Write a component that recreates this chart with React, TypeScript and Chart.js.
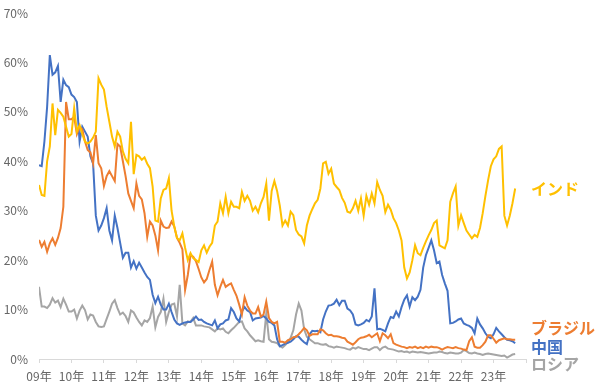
import React, { useEffect, useRef } from 'react';
import { Chart, registerables } from 'chart.js';

Chart.register(...registerables);

// Tick labels (one per year, Jan of each year)
const years = ['09年', '10年', '11年', '12年', '13年', '14年', '15年', '16年', '17年', '18年', '19年', '20年', '21年', '22年', '23年'];

// Monthly shares (%), Jan 2009 – Sep 2023
const india = [
  35.2, 33.2, 33, 40, 43, 51.7, 45.3, 50.4, 49.8, 49,
  47, 45, 45.5, 50.7, 46, 47.3, 45.5, 44, 43.6, 44,
  44.8, 46, 56.8, 55.5, 54.5, 51, 48, 45, 43, 46,
  45, 42, 40.5, 39.6, 48, 37.4, 41.3, 41, 40.3, 40.8,
  39.5, 38.6, 34.9, 28, 27.8, 32.5, 34.2, 34.5, 36.6, 30,
  26.8, 24.5, 24, 25.4, 22.5, 20, 21.4, 20.4, 20, 19.6,
  22, 23, 21.5, 22.7, 23.5, 27, 27.8, 31.5, 29.5, 32.8,
  29.5, 31.8, 30.8, 30.8, 30.5, 33.8, 32, 33, 32, 30,
  30.8, 29.7, 31.5, 32.8, 35.5, 28, 34, 36, 34, 31,
  27, 28, 27, 29.8, 29.1, 26.1, 25.2, 24.8, 23.4, 27,
  29, 30.3, 31.5, 32.2, 34.5, 39.6, 39.9, 37.5, 38.5, 35.5,
  34.8, 34.2, 32.6, 31.6, 29.8, 29.6, 30.5, 32, 30, 32.5,
  29, 33, 31.2, 33.5, 31.5, 35.8, 34.2, 33, 29.7, 31.2,
  30.2, 28.5, 27.5, 26, 24, 18.5, 16.3, 17.5, 20, 23,
  21.4, 21, 22.5, 23.8, 25, 26.1, 27.5, 28, 23, 22.7,
  22.4, 24, 31.8, 33.5, 34.9, 27, 29.1, 27.5, 26, 25.2,
  24.4, 25.1, 24.7, 26.5, 29.5, 33, 36.2, 39, 40.4, 41,
  42.5, 43, 29, 27, 29, 31.5, 34.5,
];

const brazil = [
  24.1, 22.7, 23.7, 21.7, 23.4, 24.4, 23.1, 24.5, 26.5, 30.8,
  52, 48.5, 48.5, 49, 45.5, 47, 46.5, 44, 42.3, 41.8,
  39.6, 45.3, 39.6, 38.6, 35, 37, 38, 37, 36, 43.5,
  43, 40, 37, 33.5, 32, 30.5, 35.5, 33, 32.3, 29.5,
  24.7, 27.8, 27, 25, 22, 28, 26.8, 26.5, 26.6, 27.8,
  26.8, 24.5, 23.5, 22.2, 14, 17, 21, 20.7, 19.8, 18.2,
  16.5, 15.5, 16.2, 18, 19.7, 15, 12.9, 14.6, 16, 14.6,
  15, 15.3, 14, 12.8, 11, 9, 12.5, 10.8, 9.8, 9.2,
  9.2, 10.5, 8.6, 9, 11.6, 8.3, 7.5, 7.2, 7.5, 3.5,
  3.5, 3.3, 3.8, 4, 4.4, 4.5, 5, 5.6, 6.3, 5.8,
  4.7, 5, 5, 5, 6, 5.8, 5.2, 4.8, 4.9, 4.6,
  4.6, 4.5, 4.3, 4.2, 3.5, 3.2, 2.9, 3.4, 4, 4.3,
  4.4, 4.6, 4.9, 4.4, 4.8, 5.2, 3.6, 5.2, 4.8, 4.2,
  5, 3.2, 2.9, 2.7, 2.5, 2.4, 2.2, 2.4, 2.3, 2.5,
  2.2, 2.4, 2.2, 2.5, 2.3, 2.5, 2.4, 2.4, 2.2, 1.9,
  2.2, 2.4, 2.3, 2.2, 2.4, 2.2, 2.1, 1.9, 1.8, 3.6,
  4.4, 2.5, 2.3, 2.3, 2.8, 3.5, 4.8, 4.8, 4.1, 3.3,
  3.8, 4, 4.2, 4, 4, 3.9, 3.9,
];

const china = [
  39.2, 39, 44, 51, 61.5, 57.5, 58, 59.3, 52, 56.5,
  55.4, 55, 53.5, 53, 52, 44, 47, 46, 45, 41,
  39.5, 29, 26, 27, 28.5, 30.5, 26, 24, 29, 26.5,
  23.5, 20.5, 21.5, 21.5, 18.5, 19.8, 18.3, 19.5, 18.5, 17.5,
  16.6, 16, 13, 11.3, 12.6, 11, 10, 10, 11.2, 9.5,
  8, 7.2, 6.9, 7.2, 7.4, 7.5, 7.5, 8, 8.6, 7.9,
  8, 7.5, 7.2, 7, 6.8, 7.8, 6.2, 7, 7.2, 7.8,
  8, 10.3, 9.5, 8.2, 7.6, 9.6, 10.5, 9.8, 9.5, 7.8,
  8.2, 8.3, 8.4, 8.7, 8.2, 7.5, 7.3, 6.8, 4, 2.6,
  2.8, 3.1, 3.3, 3.5, 4, 4.6, 4.5, 3.9, 3.4, 3,
  5, 5.7, 5.6, 5.7, 5.4, 8, 9.6, 10.8, 10.9, 11.2,
  12, 10.9, 11.8, 11.8, 10.2, 9.8, 9, 7, 6.8, 7,
  7.3, 7.9, 7.6, 8.6, 14.3, 6, 6.1, 5.9, 5.6, 7.2,
  8.5, 8.3, 9.6, 8.6, 10.5, 12, 12.9, 10.6, 12.5, 11.9,
  12.6, 14, 18.5, 21, 22.5, 24, 22, 19.4, 19.7, 17,
  15.3, 13.8, 7.2, 7.3, 7.6, 8, 8.2, 7.2, 6.9, 6.7,
  6.3, 5.2, 8.2, 7, 6.2, 5.2, 4.5, 4.2, 5, 6.3,
  5.6, 5, 4.4, 3.9, 3.8, 3.6, 3.2,
];

const russia = [
  14.6, 10.6, 10.6, 10.3, 11, 12.3, 11.4, 11.8, 10.5, 12.2,
  11, 9.6, 9.6, 10, 8.2, 9.8, 10.8, 9.9, 8, 9,
  8.8, 7.5, 6.6, 6.5, 6.6, 8.1, 9.6, 11.2, 11.9, 10.3,
  9, 9.4, 8.7, 7.5, 9.8, 9.4, 8.4, 7.5, 6.8, 7.8,
  7.5, 8.3, 10.6, 6.4, 8.5, 9.5, 12.2, 7.5, 9.5, 11,
  11.2, 8.6, 15, 7.2, 6.8, 7.6, 7.5, 8.3, 6.8, 6.8,
  6.8, 6.6, 6.5, 6.4, 6, 5.6, 6.2, 6, 6.2, 5.5,
  5.2, 5.8, 6.3, 6.9, 7.5, 7.6, 6.2, 5.6, 4.8, 4.2,
  3.6, 3.8, 3.6, 3.5, 9.2, 4, 3.5, 3.4, 3.2, 2.6,
  2.3, 2.8, 3.4, 4.3, 5.8, 9, 11.2, 9.8, 6, 4.5,
  4, 3.6, 3.2, 3.2, 3, 2.9, 3, 2.6, 2.5, 2.3,
  2.5, 2.4, 2.3, 2.2, 2, 1.9, 2.3, 2.1, 2.4, 2.2,
  2, 2, 1.8, 2.1, 2.4, 2.4, 1.8, 2.3, 2.5, 2.1,
  2, 1.9, 1.7, 1.5, 1.6, 1.4, 1.5, 1.3, 1.5, 1.4,
  1.3, 1.4, 1.3, 1.2, 1.1, 1.2, 1.3, 1.3, 1.5, 1.4,
  1.2, 1.1, 1.3, 1.2, 1.1, 1.1, 1.3, 1.8, 1.6, 1.2,
  1.1, 1.3, 1.1, 1, 0.8, 1, 1.1, 1, 0.9, 0.8,
  0.7, 0.6, 0.7, 0.3, 0.6, 0.9, 1,
];

const seriesNames = ['インド', 'ブラジル', '中国', 'ロシア'];
const seriesColors = ['#FFC000', '#ED7D31', '#4472C4', '#A5A5A5'];
const labelShiftPx = [0, -12, 4, 10];

const FONT = "'Noto Sans CJK JP', 'Noto Sans', sans-serif";

export default function App() {
  const ref = useRef<HTMLCanvasElement>(null);

  useEffect(() => {
    const canvas = ref.current;
    if (!canvas) return;
    const allSeries = [india, brazil, china, russia];

    const endLabels = {
      id: 'endLabels',
      afterDatasetsDraw(chart: any) {
        const { ctx, chartArea, scales } = chart;
        ctx.save();
        ctx.font = `bold 16px ${FONT}`;
        ctx.textAlign = 'left';
        ctx.textBaseline = 'middle';
        allSeries.forEach((arr, k) => {
          const last = arr[arr.length - 1];
          const y = scales.y.getPixelForValue(last) + labelShiftPx[k];
          ctx.fillStyle = seriesColors[k];
          ctx.fillText(seriesNames[k], chartArea.right + 5, y);
        });
        ctx.restore();
      },
    };

    const chart = new Chart(canvas, {
      type: 'line',
      data: {
        datasets: allSeries.map((arr, k) => ({
          label: seriesNames[k],
          data: arr.map((v, i) => ({ x: i, y: v })),
          borderColor: seriesColors[k],
          backgroundColor: seriesColors[k],
          borderWidth: 2,
          pointRadius: 0,
          tension: 0,
          fill: false,
        })),
      },
      options: {
        responsive: false,
        animation: false,
        layout: { padding: { top: 13, right: 74, left: 0, bottom: 0 } },
        plugins: {
          legend: { display: false },
          tooltip: { enabled: false },
        },
        scales: {
          x: {
            type: 'linear',
            min: 0,
            max: years.length * 12,
            afterFit: (s: any) => { s.height = 31; },
            grid: {
              display: true,
              drawOnChartArea: false,
              drawTicks: true,
              tickLength: 4,
              color: '#D9D9D9',
            },
            border: { display: true, color: '#D9D9D9', width: 1 },
            ticks: {
              stepSize: 12,
              autoSkip: false,
              maxRotation: 0,
              padding: 6,
              color: '#666666',
              font: { family: FONT, size: 12 },
              callback: (v: any) => {
                const idx = Math.round(Number(v) / 12);
                return years[idx] ?? '';
              },
            },
          },
          y: {
            min: 0,
            max: 70,
            afterFit: (s: any) => {
              s.width = 39;
              s.paddingTop = 0;
              s.paddingBottom = 0;
            },
            grid: { display: false, drawTicks: false },
            border: { display: false },
            ticks: {
              stepSize: 10,
              padding: 11,
              color: '#666666',
              font: { family: FONT, size: 12 },
              callback: (v: any) => `${v}%`,
            },
          },
        },
      },
      plugins: [endLabels],
    });

    return () => chart.destroy();
  }, []);

  return (
    <div style={{ position: 'fixed', left: 0, top: 0, width: 600, height: 390, background: '#fff' }}>
      <canvas ref={ref} width={600} height={390} style={{ display: 'block' }} />
    </div>
  );
}
